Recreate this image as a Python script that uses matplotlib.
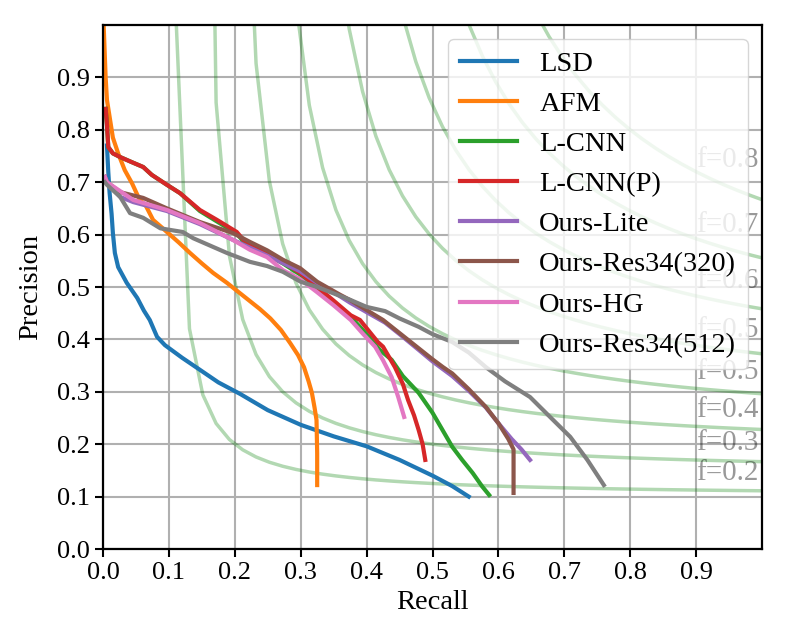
import numpy as np
import matplotlib
matplotlib.use("Agg")
import matplotlib.pyplot as plt

plt.rcParams['font.family'] = ['Liberation Serif', 'DejaVu Serif']

# --- PR curves ---
lsd_r = [0.006, 0.008, 0.010, 0.013, 0.015, 0.018, 0.023, 0.036, 0.052, 0.062, 0.071, 0.082, 0.094,
         0.12, 0.147, 0.175, 0.208, 0.25, 0.3, 0.35, 0.4, 0.45, 0.5, 0.53, 0.555]
lsd_p = [0.77, 0.72, 0.68, 0.64, 0.603, 0.565, 0.538, 0.508, 0.479, 0.455, 0.437, 0.405, 0.389,
         0.365, 0.342, 0.318, 0.296, 0.265, 0.237, 0.215, 0.196, 0.17, 0.14, 0.12, 0.10]

afm_r = [0.001, 0.004, 0.006, 0.010, 0.015, 0.023, 0.033, 0.044, 0.055, 0.065, 0.076, 0.088, 0.097,
         0.115, 0.132, 0.15, 0.167, 0.188, 0.208, 0.223, 0.238, 0.254, 0.27, 0.284, 0.296, 0.305,
         0.312, 0.317, 0.321, 0.324, 0.325, 0.325]
afm_p = [1.0, 0.90, 0.857, 0.825, 0.785, 0.755, 0.723, 0.698, 0.668, 0.655, 0.628, 0.615, 0.605,
         0.585, 0.565, 0.545, 0.527, 0.508, 0.488, 0.473, 0.458, 0.44, 0.418, 0.393, 0.37, 0.347,
         0.32, 0.298, 0.27, 0.246, 0.183, 0.122]

lcnn_r = [0.004, 0.006, 0.008, 0.015, 0.026, 0.046, 0.061, 0.074, 0.097, 0.117, 0.147, 0.173, 0.203,
          0.213, 0.249, 0.273, 0.299, 0.325, 0.349, 0.376, 0.40, 0.42, 0.438, 0.455, 0.479, 0.50,
          0.53, 0.545, 0.561, 0.575, 0.586]
lcnn_p = [0.84, 0.81, 0.767, 0.755, 0.748, 0.737, 0.729, 0.714, 0.695, 0.679, 0.645, 0.625, 0.602,
          0.587, 0.562, 0.545, 0.524, 0.497, 0.472, 0.443, 0.41, 0.38, 0.361, 0.33, 0.298, 0.26,
          0.195, 0.17, 0.145, 0.12, 0.103]

lcnnp_r = [0.004, 0.006, 0.008, 0.015, 0.026, 0.046, 0.061, 0.074, 0.097, 0.117, 0.147, 0.173, 0.203,
           0.213, 0.249, 0.273, 0.299, 0.325, 0.349, 0.376, 0.39, 0.417, 0.425, 0.443, 0.455, 0.463,
           0.472, 0.479, 0.485, 0.489]
lcnnp_p = [0.84, 0.81, 0.767, 0.755, 0.748, 0.737, 0.729, 0.714, 0.695, 0.679, 0.647, 0.628, 0.605,
           0.59, 0.565, 0.548, 0.527, 0.50, 0.475, 0.446, 0.437, 0.395, 0.386, 0.347, 0.315, 0.284,
           0.255, 0.227, 0.20, 0.17]

lite_r = [0.003, 0.006, 0.026, 0.046, 0.097, 0.147, 0.197, 0.249, 0.299, 0.325, 0.35, 0.375, 0.40,
          0.428, 0.45, 0.479, 0.50, 0.53, 0.555, 0.581, 0.60, 0.62, 0.635, 0.648]
lite_p = [0.71, 0.70, 0.672, 0.662, 0.645, 0.62, 0.59, 0.56, 0.53, 0.508, 0.49, 0.47, 0.452,
          0.432, 0.41, 0.38, 0.358, 0.33, 0.302, 0.27, 0.24, 0.21, 0.19, 0.17]

r320_r = [0.003, 0.006, 0.026, 0.061, 0.097, 0.147, 0.197, 0.223, 0.249, 0.273, 0.299, 0.325, 0.36,
          0.375, 0.40, 0.425, 0.45, 0.476, 0.50, 0.516, 0.53, 0.555, 0.581, 0.60, 0.615, 0.623, 0.623]
r320_p = [0.71, 0.70, 0.681, 0.67, 0.65, 0.624, 0.603, 0.586, 0.57, 0.552, 0.536, 0.51, 0.485,
          0.475, 0.456, 0.437, 0.412, 0.386, 0.362, 0.347, 0.335, 0.305, 0.271, 0.24, 0.21, 0.19, 0.107]

hg_r = [0.003, 0.006, 0.046, 0.097, 0.147, 0.197, 0.223, 0.249, 0.273, 0.299, 0.325, 0.35, 0.376,
        0.395, 0.413, 0.425, 0.438, 0.448, 0.457]
hg_p = [0.71, 0.70, 0.666, 0.647, 0.622, 0.59, 0.571, 0.557, 0.532, 0.515, 0.49, 0.465, 0.437,
        0.41, 0.386, 0.36, 0.328, 0.29, 0.252]

r512_r = [0.003, 0.006, 0.026, 0.041, 0.061, 0.087, 0.121, 0.137, 0.188, 0.223, 0.249, 0.273, 0.3,
          0.325, 0.376, 0.40, 0.428, 0.45, 0.479, 0.50, 0.53, 0.555, 0.581, 0.61, 0.648, 0.68,
          0.709, 0.735, 0.76]
r512_p = [0.70, 0.695, 0.672, 0.641, 0.632, 0.612, 0.605, 0.593, 0.565, 0.548, 0.54, 0.529, 0.51,
          0.5, 0.475, 0.462, 0.454, 0.44, 0.424, 0.41, 0.395, 0.375, 0.347, 0.32, 0.29, 0.25,
          0.214, 0.17, 0.122]

names = ['LSD', 'AFM', 'L-CNN', 'L-CNN(P)', 'Ours-Lite', 'Ours-Res34(320)', 'Ours-HG', 'Ours-Res34(512)']
recalls = [lsd_r, afm_r, lcnn_r, lcnnp_r, lite_r, r320_r, hg_r, r512_r]
precisions = [lsd_p, afm_p, lcnn_p, lcnnp_p, lite_p, r320_p, hg_p, r512_p]

# iso-F reference curves
f_scores = np.linspace(0.2, 0.8, num=8)

fig = plt.figure(figsize=(7.88, 6.44), dpi=100)
ax = fig.add_axes([103 / 788, 95 / 644, 659 / 788, 524 / 644])

for f in f_scores:
    x = np.linspace(0.01, 1)
    y = f * x / (2 * x - f)
    ax.plot(x[y >= 0], y[y >= 0], color='green', alpha=0.3, lw=2.5)
    ax.annotate("f={0:0.1}".format(f), xy=(0.9, y[45] + 0.02), alpha=0.4, fontsize=21)

for i, (r, p) in enumerate(zip(recalls, precisions)):
    ax.plot(r, p, color='C%d' % i, lw=3, label=names[i])

ax.grid(True, color='#b0b0b0', lw=1.5)
ax.set_xlim(0, 1)
ax.set_ylim(0, 1)
ticks = np.arange(0, 1, 0.1)
ax.set_xticks(ticks)
ax.set_yticks(ticks)
ax.set_xticklabels(['%.1f' % t for t in ticks])
ax.set_yticklabels(['%.1f' % t for t in ticks])
ax.tick_params(labelsize=19, width=1.5, length=6)
for s in ax.spines.values():
    s.set_linewidth(1.6)
ax.set_xlabel('Recall', fontsize=20.5, labelpad=4)
ax.set_ylabel('Precision', fontsize=20.5, labelpad=10)
ax.legend(loc='upper right', fontsize=20.5)

plt.savefig('out.png', dpi=100)
